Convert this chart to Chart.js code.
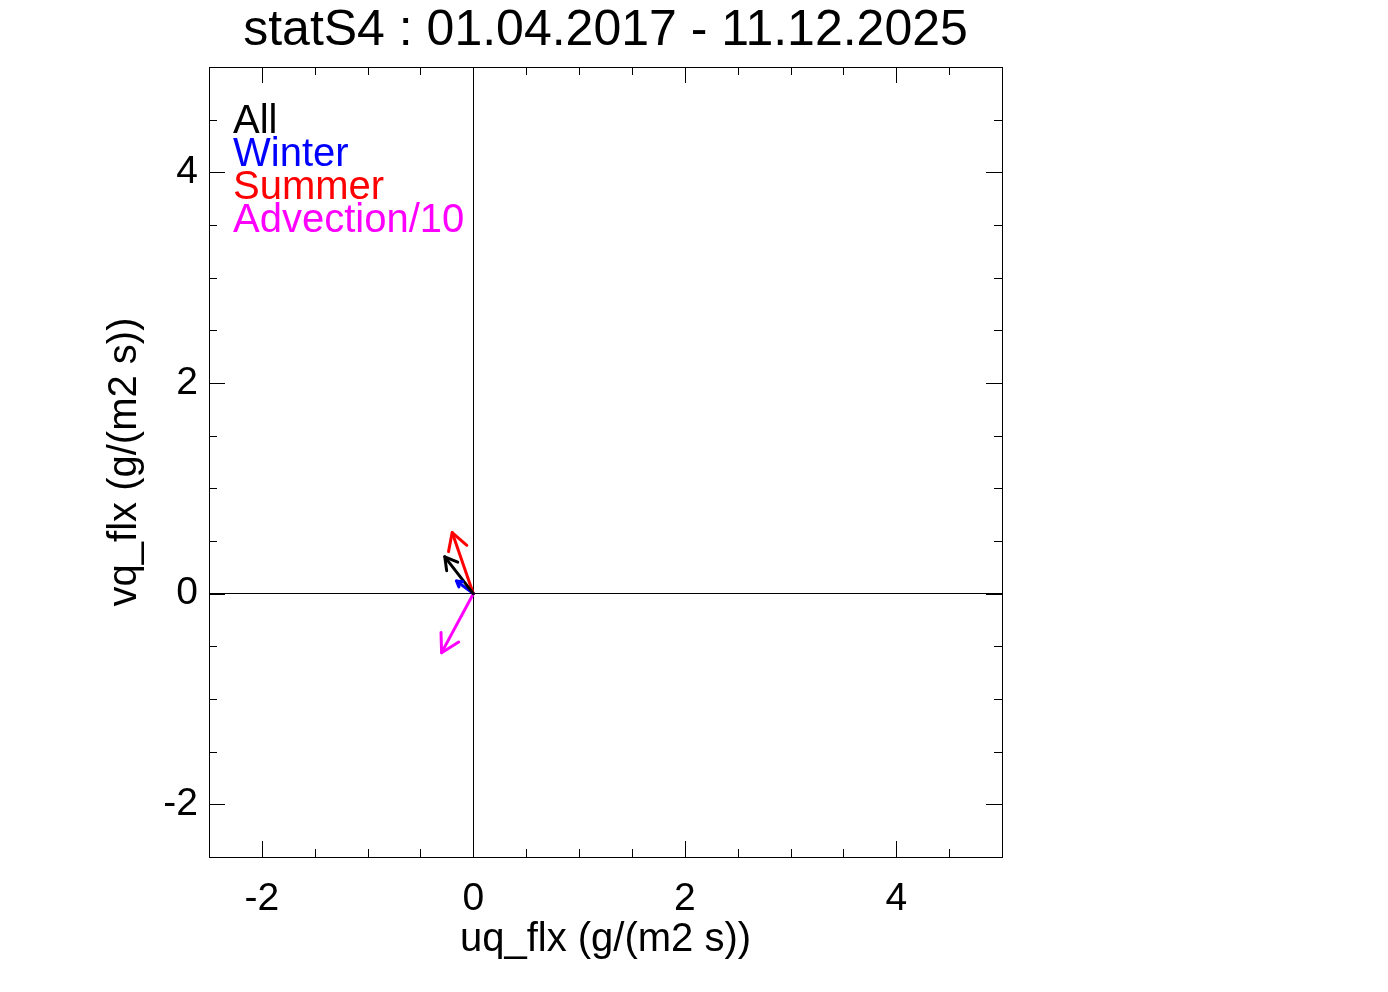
<!DOCTYPE html>
<html>
<head>
<meta charset="utf-8">
<script src="https://cdn.jsdelivr.net/npm/chart.js@4/dist/chart.umd.min.js"></script>
<style>
  html, body { margin: 0; padding: 0; background: #ffffff; }
  #wrap { width: 1388px; height: 992px; }
</style>
</head>
<body>
<div id="wrap"><canvas id="c" width="1388" height="992"></canvas></div>
<script>
// ---- data ----
const titleText = 'statS4 : 01.04.2017 - 11.12.2025';
const seriesNames = ['All', 'Winter', 'Summer', 'Advection/10'];
const uqFlux = [-0.27, -0.16, -0.20, -0.30];   // x components
const vqFlux = [0.35, 0.12, 0.58, -0.56];       // y components
const xTickLabels = [-2, 0, 2, 4];
const yTickLabels = [-2, 0, 2, 4];
const xTitle = 'uq_flx (g/(m2 s))';
const yTitle = 'vq_flx (g/(m2 s))';

const seriesColors = ['#000000', '#0000ff', '#ff0000', '#ff00ff'];
const FONT = '"Liberation Sans", Arial, Helvetica, sans-serif';

const datasets = seriesNames.map((name, i) => ({
  label: name,
  data: [{x: 0, y: 0}, {x: uqFlux[i], y: vqFlux[i]}],
  showLine: true,
  borderColor: seriesColors[i],
  backgroundColor: seriesColors[i],
  borderWidth: 3,
  pointRadius: 0,
  pointHoverRadius: 0,
  borderCapStyle: 'round',
  fill: false
}));

const framePlugin = {
  id: 'frame',
  afterDraw(chart) {
    const {ctx, chartArea: a, scales: {x, y}} = chart;
    ctx.save();
    ctx.strokeStyle = '#000';
    ctx.lineWidth = 1;
    ctx.strokeRect(Math.round(a.left) + 0.5, Math.round(a.top) + 0.5,
                   Math.round(a.right - a.left), Math.round(a.bottom - a.top));
    // inward tick marks on all four sides
    ctx.beginPath();
    for (let v = -2.5; v <= 5.0001; v += 0.5) {
      const major = Math.abs(v / 2 - Math.round(v / 2)) < 1e-6;
      const len = major ? 16 : 8;
      const px = Math.round(x.getPixelForValue(v)) + 0.5;
      ctx.moveTo(px, a.bottom); ctx.lineTo(px, a.bottom - len);
      ctx.moveTo(px, a.top); ctx.lineTo(px, a.top + len);
      const py = Math.round(y.getPixelForValue(v)) + 0.5;
      ctx.moveTo(a.left, py); ctx.lineTo(a.left + len, py);
      ctx.moveTo(a.right, py); ctx.lineTo(a.right - len, py);
    }
    ctx.stroke();
    // title, centred over the plot area
    ctx.fillStyle = '#000';
    ctx.font = '50px ' + FONT;
    ctx.textAlign = 'center';
    ctx.textBaseline = 'middle';
    ctx.fillText(titleText, (a.left + a.right) / 2, 31);
    ctx.restore();
  },
  afterDatasetsDraw(chart) {
    const ctx = chart.ctx;
    ctx.save();
    chart.data.datasets.forEach((ds, i) => {
      const pts = chart.getDatasetMeta(i).data;
      const p0 = pts[0], p1 = pts[1];
      const dx = p1.x - p0.x, dy = p1.y - p0.y;
      const len = Math.hypot(dx, dy);
      if (len < 1e-6) return;
      const ux = dx / len, uy = dy / len;
      const h = Math.min(21, 0.3 * len);
      const ang = Math.PI / 6;
      ctx.strokeStyle = ds.borderColor;
      ctx.lineWidth = 3;
      ctx.lineCap = 'round';
      ctx.beginPath();
      for (const s of [1, -1]) {
        const c = Math.cos(s * ang), sn = Math.sin(s * ang);
        const bx = -(ux * c - uy * sn), by = -(ux * sn + uy * c);
        ctx.moveTo(p1.x, p1.y);
        ctx.lineTo(p1.x + bx * h, p1.y + by * h);
      }
      ctx.stroke();
    });
    // legend text
    ctx.font = '40px ' + FONT;
    ctx.textAlign = 'left';
    ctx.textBaseline = 'middle';
    chart.data.datasets.forEach((ds, i) => {
      ctx.fillStyle = ds.borderColor;
      ctx.fillText(ds.label, 233, 121.5 + i * 33.3);
    });
    ctx.restore();
  }
};

new Chart(document.getElementById('c'), {
  type: 'scatter',
  data: { datasets },
  plugins: [framePlugin],
  options: {
    responsive: false,
    devicePixelRatio: 1,
    animation: false,
    events: [],
    layout: { padding: { left: 0, right: 386, top: 67, bottom: 0 } },
    plugins: {
      legend: { display: false },
      tooltip: { enabled: false },
      title: { display: false }
    },
    scales: {
      x: {
        type: 'linear',
        min: -2.5, max: 5,
        afterBuildTicks: (s) => { s.ticks = xTickLabels.map(v => ({value: v})); },
        afterFit: (s) => { s.height = 135; },
        grid: {
          drawTicks: false,
          color: (c) => (c.tick && c.tick.value === 0) ? '#000' : 'rgba(0,0,0,0)',
          lineWidth: 1
        },
        border: { display: true, color: '#000', width: 1 },
        ticks: {
          color: '#000',
          padding: 19,
          maxRotation: 0,
          font: { family: FONT, size: 39 },
          callback: (v) => String(v)
        },
        title: {
          display: true, text: xTitle, color: '#000',
          font: { family: FONT, size: 40, lineHeight: 1.2 },
          padding: { top: 0, bottom: 28 }
        }
      },
      y: {
        type: 'linear',
        min: -2.5, max: 5,
        afterBuildTicks: (s) => { s.ticks = yTickLabels.map(v => ({value: v})); },
        afterFit: (s) => { s.width = 209; },
        grid: {
          drawTicks: false,
          color: (c) => (c.tick && c.tick.value === 0) ? '#000' : 'rgba(0,0,0,0)',
          lineWidth: 1
        },
        border: { display: true, color: '#000', width: 1 },
        ticks: {
          color: '#000',
          padding: 11,
          font: { family: FONT, size: 39 },
          callback: (v) => String(v)
        },
        title: {
          display: true, text: yTitle, color: '#000',
          font: { family: FONT, size: 40, lineHeight: 1.2 },
          padding: { top: 101, bottom: 0 }
        }
      }
    }
  }
});
</script>
</body>
</html>
